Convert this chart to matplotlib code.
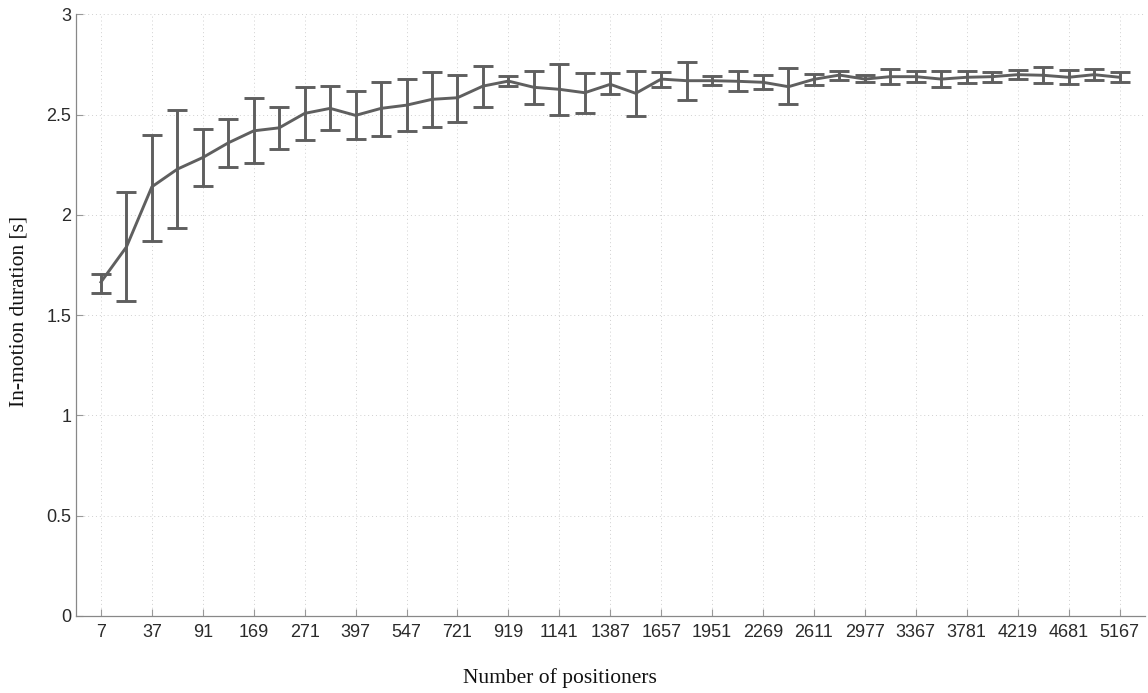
import matplotlib
matplotlib.use("Agg")
import matplotlib.pyplot as plt
import numpy as np

# Number of positioners (hexagonal numbers)
positioners = [7, 19, 37, 61, 91, 127, 169, 217, 271, 331, 397, 469, 547, 631, 721,
               817, 919, 1027, 1141, 1261, 1387, 1519, 1657, 1801, 1951, 2107, 2269,
               2437, 2611, 2791, 2977, 3169, 3367, 3571, 3781, 3997, 4219, 4447, 4681,
               4921, 5167]

mean_duration = [1.665, 1.840, 2.140, 2.228, 2.286, 2.359, 2.419, 2.434, 2.506, 2.531,
                 2.496, 2.531, 2.547, 2.576, 2.584, 2.642, 2.667, 2.636, 2.626, 2.609,
                 2.651, 2.606, 2.677, 2.669, 2.669, 2.666, 2.661, 2.639, 2.676, 2.697,
                 2.677, 2.689, 2.689, 2.677, 2.686, 2.689, 2.699, 2.696, 2.686, 2.699,
                 2.686]

upper_bound = [1.704, 2.115, 2.396, 2.522, 2.426, 2.478, 2.581, 2.539, 2.637, 2.642,
               2.617, 2.664, 2.677, 2.714, 2.697, 2.742, 2.691, 2.719, 2.752, 2.709,
               2.705, 2.717, 2.711, 2.762, 2.691, 2.715, 2.696, 2.730, 2.702, 2.719,
               2.696, 2.727, 2.717, 2.719, 2.717, 2.714, 2.722, 2.739, 2.722, 2.727,
               2.714]

lower_bound = [1.611, 1.571, 1.872, 1.935, 2.145, 2.240, 2.260, 2.328, 2.373, 2.423,
               2.378, 2.391, 2.418, 2.436, 2.464, 2.539, 2.642, 2.551, 2.498, 2.509,
               2.601, 2.494, 2.639, 2.572, 2.646, 2.619, 2.627, 2.551, 2.646, 2.672,
               2.662, 2.654, 2.661, 2.639, 2.659, 2.664, 2.677, 2.656, 2.654, 2.672,
               2.664]

y_ticks = [0, 0.5, 1, 1.5, 2, 2.5, 3]
y_tick_labels = ["0", "0.5", "1", "1.5", "2", "2.5", "3"]

x_label = "Number of positioners"
y_label = "In-motion duration [s]"

mean_arr = np.array(mean_duration)
yerr = np.vstack([mean_arr - np.array(lower_bound), np.array(upper_bound) - mean_arr])
x = np.arange(1, len(positioners) + 1)

fig = plt.figure(figsize=(11.48, 6.93), dpi=100)
ax = fig.add_axes([75.5 / 1148, 77 / 693, (1145 - 75.5) / 1148, (616 - 14.3) / 693])

line_color = "#5f5f5f"
ax.errorbar(x, mean_arr, yerr=yerr, color=line_color, lw=2.1, elinewidth=2.1,
            capsize=7.5, capthick=2.1, zorder=3)

ax.set_xlim(0, 42)
ax.set_ylim(0, 3)

tick_idx = x[::2]
ax.set_xticks(tick_idx)
ax.set_xticklabels([str(positioners[i - 1]) for i in tick_idx],
                   family="Liberation Sans", fontsize=13, color="#2a2a2a")
ax.set_yticks(y_ticks)
ax.set_yticklabels(y_tick_labels, family="Liberation Sans", fontsize=13, color="#2a2a2a")

ax.tick_params(axis="both", direction="in", length=5, width=0.8, color="#999999")
ax.tick_params(axis="x", pad=6)
ax.tick_params(axis="y", pad=3)

ax.grid(True, linestyle=(0, (1, 3)), color="#d0d0d0", linewidth=0.7)
ax.set_axisbelow(True)

for s in ["top", "right"]:
    ax.spines[s].set_visible(False)
for s in ["left", "bottom"]:
    ax.spines[s].set_color("#888888")
    ax.spines[s].set_linewidth(0.9)

fig.text(560 / 1148, 1 - 678 / 693, x_label, family="Liberation Serif",
         fontsize=15.5, ha="center", va="center", color="#111111")
fig.text(19 / 1148, 1 - 311 / 693, y_label, family="Liberation Serif",
         fontsize=15.5, ha="center", va="center", rotation=90, color="#111111")

fig.savefig("out.png", dpi=100)
